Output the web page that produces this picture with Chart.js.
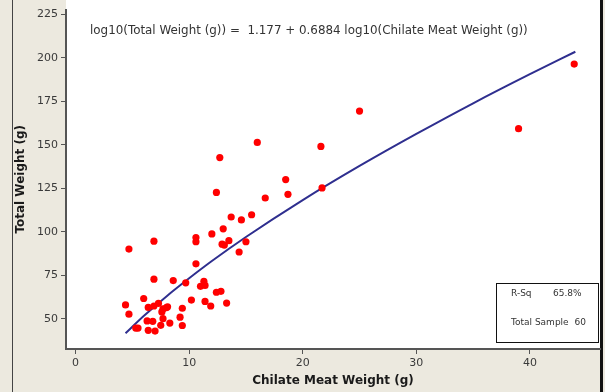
<!DOCTYPE html>
<html>
<head>
<meta charset="utf-8">
<script src="https://cdn.jsdelivr.net/npm/chart.js@4/dist/chart.umd.min.js"></script>
<style>
  html, body { margin: 0; padding: 0; background: #ece9df; }
  canvas { display: block; }
</style>
</head>
<body>
<canvas id="chart" width="605" height="392"></canvas>
<script>
// sample values
const meatWeight = [
  43.9, 39.0, 25.0, 16.0, 21.6, 12.7, 18.5, 21.7, 12.4, 18.7,
  16.7, 13.7, 14.6, 15.5, 12.0, 13.0, 10.6, 10.6, 12.9, 13.1,
  13.5, 15.0, 14.4, 4.7, 6.9, 10.6, 6.9, 8.6, 9.7, 11.3,
  11.0, 11.4, 12.4, 12.8, 6.0, 10.2, 11.4, 13.3, 11.9, 4.4,
  4.7, 6.4, 6.9, 7.3, 7.6, 7.7, 8.0, 8.1, 9.4, 7.7,
  9.2, 8.3, 7.5, 9.4, 5.3, 5.5, 6.3, 6.8, 6.4, 7.0
];
const totalWeight = [
  196.3, 159.2, 169.3, 151.3, 149.0, 142.6, 130.0, 125.2, 122.6, 121.5,
  119.4, 108.5, 106.8, 109.8, 98.8, 101.7, 96.7, 94.3, 92.9, 92.4,
  94.9, 94.3, 88.4, 90.1, 94.6, 81.6, 72.8, 72.0, 70.7, 71.6,
  68.7, 69.2, 65.3, 65.8, 61.7, 60.8, 60.0, 59.1, 57.4, 58.0,
  52.7, 56.6, 57.4, 58.9, 54.0, 55.7, 56.5, 56.9, 56.1, 50.1,
  51.0, 47.6, 46.3, 46.2, 44.7, 44.7, 48.8, 48.6, 43.4, 43.0
];

// fitted curve
const fitMeatWeight = [4.4, 6, 8, 10, 12, 15, 20, 25, 30, 35, 40, 44];
const fitTotalWeight = [41.7, 51.6, 62.9, 73.3, 83.2, 97.0, 118.2, 137.8, 156.2, 173.8, 190.5, 203.4];

const xTicks = [0, 10, 20, 30, 40];
const yTicks = [50, 75, 100, 125, 150, 175, 200, 225];

const equationText = 'log10(Total Weight (g)) =  1.177 + 0.6884 log10(Chilate Meat Weight (g))';
const statLabels = ['R-Sq', 'Total Sample'];
const statValues = ['65.8%', '60'];

const FONT = 'DejaVu Sans';

const framePlugin = {
  id: 'frame',
  beforeDraw(chart) {
    const { ctx, chartArea } = chart;
    ctx.save();
    ctx.fillStyle = '#ece9df';
    ctx.fillRect(0, 0, chart.width, chart.height);
    ctx.fillStyle = '#ffffff';
    ctx.fillRect(chartArea.left, 0, chartArea.right - chartArea.left, chartArea.bottom);
    // outer frame lines
    ctx.strokeStyle = '#444';
    ctx.lineWidth = 1;
    ctx.beginPath();
    ctx.moveTo(12.5, 0);
    ctx.lineTo(12.5, chart.height);
    ctx.stroke();
    ctx.fillStyle = '#111';
    ctx.fillRect(600, 0, 3, chart.height);
    ctx.restore();
  },
  afterDatasetsDraw(chart) {
    const { ctx } = chart;
    ctx.save();
    ctx.fillStyle = '#333';
    ctx.font = '11.9px "' + FONT + '"';
    ctx.textBaseline = 'middle';
    ctx.textAlign = 'left';
    ctx.fillText(equationText, 90, 31);

    // stats box
    ctx.fillStyle = '#fff';
    ctx.fillRect(496, 283, 103, 60);
    ctx.strokeStyle = '#111';
    ctx.lineWidth = 1;
    ctx.strokeRect(496.5, 283.5, 102, 59);
    ctx.fillStyle = '#333';
    ctx.font = '9px "' + FONT + '"';
    ctx.fillText(statLabels[0], 511, 294);
    ctx.fillText(statValues[0], 553, 294);
    ctx.fillText(statLabels[1], 511, 323);
    ctx.textAlign = 'right';
    ctx.fillText(statValues[1], 586, 323);
    ctx.restore();
  }
};

const tickFont = { family: FONT, size: 11 };

new Chart(document.getElementById('chart'), {
  type: 'scatter',
  data: {
    datasets: [
      {
        label: 'Samples',
        data: meatWeight.map((x, i) => ({ x: x, y: totalWeight[i] })),
        backgroundColor: '#ff0000',
        borderColor: '#ff0000',
        borderWidth: 0,
        pointRadius: 3.6
      },
      {
        label: 'Fit',
        data: fitMeatWeight.map((x, i) => ({ x: x, y: fitTotalWeight[i] })),
        showLine: true,
        borderColor: '#2f2f8f',
        borderWidth: 2,
        pointRadius: 0,
        cubicInterpolationMode: 'monotone'
      }
    ]
  },
  options: {
    responsive: false,
    animation: false,
    devicePixelRatio: 1,
    layout: { padding: { left: 0, right: 5, top: 5, bottom: 0 } },
    plugins: {
      legend: { display: false },
      tooltip: { enabled: false }
    },
    scales: {
      x: {
        type: 'linear',
        min: -0.84,
        max: 46.17,
        afterBuildTicks: s => { s.ticks = xTicks.map(v => ({ value: v })); },
        afterFit: s => { s.height = 43; },
        ticks: { font: tickFont, color: '#3a3a3a', padding: 3, includeBounds: false },
        grid: { drawOnChartArea: false, drawTicks: true, tickLength: 5, color: '#555' },
        border: { color: '#555', width: 2 },
        title: {
          display: true,
          text: 'Chilate Meat Weight (g)',
          color: '#1a1a1a',
          font: { family: FONT, size: 12, weight: 'bold' },
          padding: { top: 0, bottom: 4 }
        }
      },
      y: {
        type: 'linear',
        min: 32.7,
        max: 227.6,
        afterBuildTicks: s => { s.ticks = yTicks.map(v => ({ value: v })); },
        afterFit: s => { s.width = 66; },
        ticks: { font: tickFont, color: '#3a3a3a', padding: 3, includeBounds: false },
        grid: { drawOnChartArea: false, drawTicks: true, tickLength: 5, color: '#555' },
        border: { color: '#555', width: 2 },
        title: {
          display: true,
          text: 'Total Weight (g)',
          color: '#1a1a1a',
          font: { family: FONT, size: 12, weight: 'bold' },
          padding: { top: 14, bottom: 0 }
        }
      }
    }
  },
  plugins: [framePlugin]
});
</script>
</body>
</html>
